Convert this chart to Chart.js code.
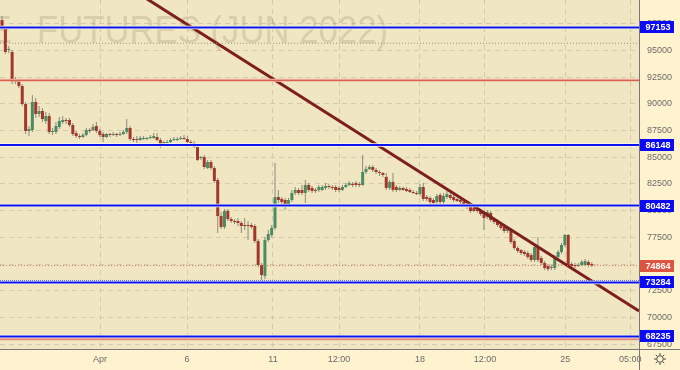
<!DOCTYPE html>
<html><head><meta charset="utf-8">
<script src="https://cdn.jsdelivr.net/npm/chart.js@4/dist/chart.umd.min.js"></script>
<style>html,body{margin:0;padding:0;background:#fff3cf;overflow:hidden}#wrap{width:680px;height:370px}</style>
</head><body><div id="wrap"><canvas id="c" width="680" height="370"></canvas></div>
<script>
// ---- data (2h candles, RTS index futures Jun 2022) ----
const opens=[97850,97100,95040,94860,92050,92140,91670,89990,87460,87550,
90180,89050,89330,88400,88860,87370,87370,87840,88300,88490,
88490,88020,87270,86990,86900,87090,87550,87550,87930,87460,
87180,86900,87180,87090,87180,87090,87180,87370,87740,86710,
86710,86620,86710,86710,86810,86810,86900,86620,86150,86340,
86430,86620,86620,86710,86810,86710,86430,86340,85960,84930,
85030,84000,84560,84000,82870,79500,78480,79970,79220,79040,
79040,78850,78660,78660,78660,78570,77160,74920,73890,77260,
77730,78380,81280,81100,81000,80530,81000,81660,81940,81940,
81660,82410,82130,81940,81940,81940,82130,82310,82220,82220,
82130,81940,82220,82410,82500,82590,82500,82410,83620,83900,
84090,83810,83620,83530,83160,82130,82690,82220,81940,82130,
82030,81940,81750,81660,81560,82220,81280,81190,81000,80820,
81470,80820,81280,81470,81280,81100,81000,80820,80630,80350,
80250,80070,79970,79790,79410,79790,79220,79040,78660,78480,
78100,78190,77160,76510,76320,76140,76040,75850,75390,76600,
75570,75110,74820,74640,74640,75670,76140,76790,77730,75010,
74920,74820,74920,74920,75200,75010];
const highs=[98220,97290,95420,95040,92520,92330,91860,90180,87930,90830,
90550,89800,89610,89240,89150,87740,88300,88770,88860,88680,
88680,88210,87460,87180,87270,87740,87740,88120,88300,87650,
87370,87270,87270,87370,87270,87370,87550,88580,87930,86900,
86990,86990,86990,86900,87090,87270,87270,86810,86520,86620,
86810,86900,86900,86990,87090,86990,86620,86520,86060,85120,
85210,84750,84750,84180,83060,79880,80160,80160,79410,79220,
79320,79040,79320,79040,78850,78760,77350,75110,77540,78190,
78660,84470,81940,81280,81190,81190,81940,82220,82130,82410,
82870,82590,82310,82130,82410,82410,82590,82500,82410,82410,
82310,82410,82590,82780,82690,82780,82690,85210,84180,84280,
84280,84000,83810,83620,83530,82870,83530,82410,82310,82220,
82220,82130,81940,81850,82500,82590,81470,81380,81190,81560,
81660,81660,81850,81660,81470,81190,81100,80910,80820,80530,
80440,80250,80160,79970,80070,79970,79410,79220,78850,78660,
78570,78380,77350,76700,76420,76320,76230,76040,76790,77540,
75760,75290,75010,74920,75850,76320,76980,77820,77820,75200,
75110,75110,75390,75480,75390,75200];
const lows=[96910,94670,94760,91860,91860,91490,89800,87180,86990,87370,
88680,88770,88300,88120,87180,87090,87180,87650,88120,88120,
87840,86990,86810,86710,86810,86990,87270,87460,87270,86900,
86430,86810,86900,86990,86900,86990,87090,87180,86520,86430,
86340,86520,86620,86620,86710,86710,86520,85870,86060,86240,
86340,86520,86520,86620,86620,86340,86150,85870,84650,84750,
83900,83900,83810,82590,77910,78290,78290,79040,78850,78760,
78570,77910,78190,77260,78290,76980,74730,73510,73610,77070,
77540,78190,80720,80530,80070,80350,80820,81470,81470,81470,
80720,81750,81660,81660,81750,81850,81940,82030,81940,81750,
81750,81850,82130,82310,82220,82220,82220,82310,83440,83810,
83620,83440,83250,83160,81940,81940,81750,81750,81850,81850,
81750,81660,81560,81470,81380,80910,80910,80630,80530,80630,
80630,80630,81100,81000,80820,80820,80630,80440,80160,79790,
79880,79790,79500,78190,79220,78940,78760,78480,78190,77910,
77910,76880,76320,76040,75850,75760,75480,75200,75200,75200,
74920,74450,74360,74450,74450,75480,75950,76600,74730,74730,
74640,74730,74820,74820,74730,74730];
const closes=[97190,94860,95140,92050,92230,91670,89990,87460,87650,90180,
89050,89330,88580,88860,87370,87460,87930,88400,88490,88400,
88020,87180,86990,86900,87090,87550,87460,87840,87460,87090,
86900,87180,87090,87180,87090,87180,87370,87740,86710,86620,
86620,86810,86810,86810,86900,86990,86620,86150,86430,86430,
86620,86710,86710,86810,86710,86430,86340,85960,84750,85030,
84090,84560,84000,82780,79500,78480,79970,79220,79040,78940,
78850,78570,78570,78570,78480,77160,74920,73980,77260,77820,
78380,81280,81000,80820,80530,81000,81660,81940,81660,81660,
82410,81940,81850,81850,82220,82220,82310,82220,82130,81940,
81940,82220,82410,82590,82410,82410,82410,83620,83900,84090,
83810,83620,83530,83340,82130,82690,81940,81940,82130,81940,
81850,81750,81660,81560,82220,81100,81100,80820,80720,81380,
80820,81380,81560,81190,81000,80910,80820,80630,80350,79970,
79970,79970,79690,79320,79880,79130,78940,78660,78380,78100,
78380,77070,76510,76230,76040,75950,75670,75390,76600,75390,
75110,74640,74540,74730,75670,76140,76790,77730,74920,74820,
74820,74920,75200,75290,74920,74864];

const priceTicks=[67500,70000,72500,75000,77500,80000,82500,85000,87500,90000,92500,95000,97500];
const timeTickPos=[29.1,54.9,80.4,100,124,143.3,167.1,186.4];
const timeTickLabels=['Apr','6','11','12:00','18','12:00','25','05:00'];
const blueLevels=[97153,86148,80482,73284,68235];
const blueDotted=[73470];
const redLevels=[92200,67990];
const grayDotted=[95670];
const lastPrice=74864;
const trendX=[40,189];
const trendY=[100424,70622];
const watermarkLead='E';
const watermarkText='FUTURES (JUN 2022)';

// ---- build ----
const FONT='"Liberation Sans", Arial, sans-serif';
const idx=opens.map((_,i)=>i);
const wickData=idx.map(i=>({x:i,y:[lows[i],highs[i]]}));
const bodyData=idx.map(i=>({x:i,y:[opens[i],closes[i]]}));
const isUp=i=>closes[i]>=opens[i];

const overlay={
  id:'overlay',
  beforeDraw(chart){
    const {ctx,chartArea:a}=chart;
    ctx.save();
    ctx.fillStyle='#fff3cf';
    ctx.fillRect(0,0,chart.width,chart.height);
    ctx.fillStyle='#f0e6c2';
    ctx.fillRect(a.left,a.top,a.right-a.left,a.bottom-a.top);
    ctx.restore();
  },
  beforeDatasetsDraw(chart){
    const {ctx,chartArea:a}=chart;
    ctx.save();
    ctx.beginPath();ctx.rect(a.left,a.top,a.right-a.left,a.bottom-a.top);ctx.clip();
    ctx.font='39px '+FONT;
    const w=ctx.measureText(watermarkText).width;
    const sx=351/w;
    ctx.fillStyle='rgba(125,110,85,0.2)';
    ctx.textBaseline='alphabetic';
    ctx.save();ctx.translate(37,43);ctx.scale(sx,1);ctx.textAlign='left';ctx.fillText(watermarkText,0,0);ctx.restore();
    ctx.save();ctx.translate(12,43);ctx.scale(sx,1);ctx.textAlign='right';ctx.fillText(watermarkLead,0,0);ctx.restore();
    ctx.restore();
  },
  afterDatasetsDraw(chart){
    const {ctx,chartArea:a,scales:{y}}=chart;
    const hline=(v,color,width,dash)=>{
      const py=y.getPixelForValue(v);
      ctx.save();ctx.strokeStyle=color;ctx.lineWidth=width;ctx.setLineDash(dash);
      ctx.beginPath();ctx.moveTo(a.left,py);ctx.lineTo(a.right,py);ctx.stroke();ctx.restore();
    };
    grayDotted.forEach(v=>hline(v,'#9a958a',1,[1,2]));
    redLevels.forEach(v=>{hline(v,'#f3b7a6',3,[]);hline(v,'#d8624c',1.2,[]);});
    hline(lastPrice,'#e0705a',1,[1,2]);
    blueDotted.forEach(v=>hline(v,'#3344ff',1,[1,1]));
    blueLevels.forEach(v=>{hline(v,'#fffbe8',3.5,[]);hline(v,'#0a14f0',2,[]);});
  },
  afterDraw(chart){
    const {ctx,chartArea:a,scales:{y}}=chart;
    ctx.save();
    ctx.strokeStyle='#777';ctx.lineWidth=1;
    ctx.beginPath();ctx.moveTo(a.right+0.5,0);ctx.lineTo(a.right+0.5,chart.height);ctx.stroke();
    ctx.beginPath();ctx.moveTo(0,a.bottom+0.5);ctx.lineTo(chart.width,a.bottom+0.5);ctx.stroke();
    const tag=(v,bg)=>{
      const py=Math.round(y.getPixelForValue(v));
      ctx.fillStyle=bg;ctx.fillRect(a.right+1,py-6,34,12);
      ctx.fillStyle='#ffffff';ctx.font='bold 9px '+FONT;ctx.textAlign='center';ctx.textBaseline='middle';
      ctx.fillText(String(v),a.right+19,py+0.5);
    };
    blueLevels.forEach(v=>tag(v,'#0a0af5'));
    tag(lastPrice,'#dd5540');
    const gx=660,gy=359;
    ctx.strokeStyle='#444';ctx.lineWidth=1;
    ctx.beginPath();ctx.arc(gx,gy,3.3,0,Math.PI*2);ctx.stroke();
    for(let k=0;k<8;k++){const an=k*Math.PI/4;ctx.beginPath();ctx.moveTo(gx+Math.cos(an)*4,gy+Math.sin(an)*4);ctx.lineTo(gx+Math.cos(an)*6,gy+Math.sin(an)*6);ctx.stroke();}
    ctx.restore();
  }
};

new Chart(document.getElementById('c'),{
  type:'bar',
  data:{datasets:[
    {data:wickData,backgroundColor:'#8e8a7c',barThickness:1,grouped:false,order:3,inflateAmount:0},
    {data:bodyData,backgroundColor:c=>isUp(c.dataIndex)?'#4a8c62':'#a2382c',barThickness:3,grouped:false,minBarLength:1,order:2,inflateAmount:0},
    {type:'line',data:[{x:trendX[0],y:trendY[0]},{x:trendX[1],y:trendY[1]}],borderColor:'#7e1f1f',borderWidth:3,pointRadius:0,order:1}
  ]},
  options:{
    responsive:false,animation:false,events:[],
    layout:{padding:0},
    plugins:{legend:{display:false},tooltip:{enabled:false}},
    scales:{
      x:{type:'linear',min:-0.6,max:189,offset:false,
        afterBuildTicks:s=>{s.ticks=timeTickPos.map(v=>({value:v}));},
        afterFit:s=>{s.height=21;s.paddingLeft=0;s.paddingRight=0;},
        ticks:{autoSkip:false,maxRotation:0,color:'#6a6a6a',font:{size:9,family:FONT},padding:5,
          callback:(v,i)=>timeTickLabels[i]},
        grid:{offset:false,drawTicks:false,color:'rgba(185,180,165,0.55)',lineWidth:1},
        border:{display:false,dash:[5,4]}
      },
      y:{position:'right',min:67056,max:99722,
        afterBuildTicks:s=>{s.ticks=priceTicks.map(v=>({value:v}));},
        afterFit:s=>{s.width=41;s.paddingTop=0;s.paddingBottom=0;},
        ticks:{autoSkip:false,color:'#6a6a6a',font:{size:9,family:FONT},padding:8,callback:v=>String(v)},
        grid:{drawTicks:false,color:'rgba(185,180,165,0.55)',lineWidth:1},
        border:{display:false,dash:[5,4]}
      }
    }
  },
  plugins:[overlay]
});
</script>
</body></html>
